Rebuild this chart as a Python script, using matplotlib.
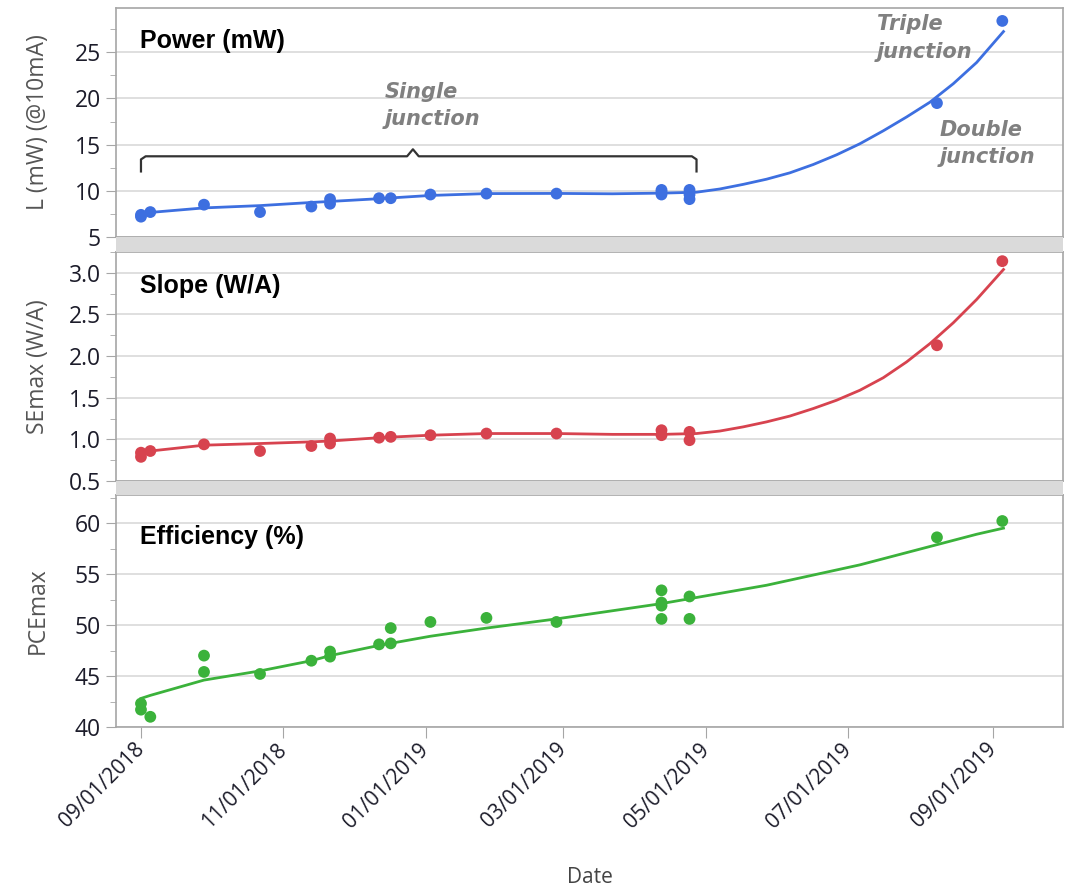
import numpy as np
import pandas as pd
import matplotlib
matplotlib.use('Agg')
import matplotlib.pyplot as plt
import matplotlib.dates as mdates
from matplotlib.patches import Rectangle

# data (days after 2018-09-01)
start = pd.Timestamp('2018-09-01')

power_days = [0, 0, 4, 27, 51, 73, 81, 81, 102, 107, 124, 148, 178, 223, 223, 223, 235, 235, 235, 341, 369]
power_vals = [7.2, 7.4, 7.7, 8.5, 7.7, 8.3, 8.6, 9.1, 9.2, 9.2, 9.6, 9.7, 9.7, 9.6, 9.9, 10.1, 9.1, 9.6, 10.1, 19.5, 28.4]

slope_days = [0, 0, 4, 27, 51, 73, 81, 81, 102, 107, 124, 148, 178, 223, 223, 235, 235, 341, 369]
slope_vals = [0.79, 0.84, 0.86, 0.94, 0.86, 0.92, 0.95, 1.01, 1.02, 1.03, 1.05, 1.07, 1.07, 1.05, 1.11, 0.99, 1.09, 2.13, 3.14]

eff_days = [0, 0, 4, 27, 27, 51, 73, 81, 81, 102, 107, 107, 124, 148, 178, 223, 223, 223, 223, 235, 235, 341, 369]
eff_vals = [42.3, 41.7, 41.0, 47.0, 45.4, 45.2, 46.5, 47.4, 46.9, 48.1, 49.7, 48.2, 50.3, 50.7, 50.3, 53.4, 52.2, 51.9, 50.6, 52.8, 50.6, 58.6, 60.2]

# smoothed fit lines
fit_days = [0, 4, 27, 51, 73, 81, 102, 124, 148, 178, 202, 223, 238, 248, 258, 268, 278, 288,
            298, 308, 318, 328, 338, 348, 358, 369.5]
power_fit = [7.5, 7.66, 8.15, 8.4, 8.74, 8.85, 9.15, 9.5, 9.7, 9.72, 9.68, 9.75, 9.85, 10.2, 10.7, 11.26,
             11.95, 12.85, 13.9, 15.1, 16.5, 18.0, 19.6, 21.6, 23.9, 27.25]
slope_fit = [0.83, 0.86, 0.93, 0.95, 0.97, 0.98, 1.02, 1.05, 1.07, 1.07, 1.06, 1.06, 1.07, 1.10, 1.15, 1.21,
             1.28, 1.37, 1.47, 1.59, 1.74, 1.93, 2.15, 2.40, 2.68, 3.04]
eff_fit = [42.8, 43.1, 44.6, 45.5, 46.5, 47.0, 48.0, 48.9, 49.7, 50.6, 51.4, 52.1, 52.7, 53.1, 53.5, 53.9,
           54.4, 54.9, 55.4, 55.9, 56.5, 57.1, 57.7, 58.3, 58.9, 59.5]

def to_dates(days):
    return start + pd.to_timedelta(days, unit='D')

blue = '#3d6fe0'
red = '#d7434f'
green = '#3bb23b'
spine_col = '#a6a6a6'
grid_col = '#d9d9d9'
band_col = '#dadada'
tick_col = '#1c1c2a'

fig = plt.figure(figsize=(10.68, 8.91), dpi=100)
W, H = 1068, 891
left, right = 116, 1063
panels = [(8, 237), (252, 481), (495, 727)]
axes = []
for top, bot in panels:
    ax = fig.add_axes([left / W, 1 - bot / H, (right - left) / W, (bot - top) / H])
    axes.append(ax)

# grey separator bands
for top, bot in [(237, 252), (481, 495)]:
    fig.patches.append(Rectangle((left / W, 1 - bot / H), (right - left) / W, (bot - top) / H,
                                 transform=fig.transFigure, facecolor=band_col, edgecolor='none', zorder=5))

series = [
    (power_days, power_vals, power_fit, blue, 'L (mW) (@10mA)', (5, 29.8), 5, 'Power (mW)', 0.91),
    (slope_days, slope_vals, slope_fit, red, 'SEmax (W/A)', (0.5, 3.25), 0.5, 'Slope (W/A)', 0.905),
    (eff_days, eff_vals, eff_fit, green, 'PCEmax', (40, 62.75), 5, 'Efficiency (%)', 0.87),
]

xlim = (start - pd.Timedelta(days=10.7), start + pd.Timedelta(days=395))

for ax, (d, v, fit, col, ylab, ylim, step, title, ty) in zip(axes, series):
    ax.plot(to_dates(fit_days), fit, color=col, lw=2.0, zorder=3, solid_joinstyle='round')
    ax.scatter(to_dates(d), v, s=72, color=col, edgecolors='none', zorder=4)
    ax.set_xlim(xlim)
    ax.set_ylim(ylim)
    ax.yaxis.set_major_locator(plt.MultipleLocator(step))
    ax.yaxis.set_minor_locator(plt.MultipleLocator(step / 2))
    ax.grid(axis='y', which='major', color=grid_col, lw=1.2)
    ax.set_axisbelow(True)
    for s in ax.spines.values():
        s.set_color(spine_col)
        s.set_linewidth(1.2)
    ax.tick_params(axis='y', which='major', direction='out', length=7, color=spine_col,
                   labelsize=16.5, labelcolor=tick_col, pad=4)
    ax.tick_params(axis='y', which='minor', direction='out', length=4, color=spine_col)
    for lab in ax.get_yticklabels():
        lab.set_family('Open Sans')
    ax.set_ylabel(ylab, fontsize=16.5, color='#555555', family='Open Sans')
    ax.yaxis.set_label_coords(-0.07, 0.5)
    ax.text(0.025, ty, title, transform=ax.transAxes, fontsize=18, fontweight='bold',
            family='Liberation Sans', va='top', ha='left', color='black')

for ax in axes[:2]:
    ax.tick_params(axis='x', which='both', bottom=False, labelbottom=False)

ax3 = axes[2]
ax3.xaxis.set_major_locator(mdates.MonthLocator(bymonth=[1, 3, 5, 7, 9, 11]))
ax3.xaxis.set_major_formatter(mdates.DateFormatter('%m/%d/%Y'))
ax3.tick_params(axis='x', direction='out', length=8, color=spine_col, labelsize=15,
                labelcolor=tick_col, pad=6)
for lab in ax3.get_xticklabels():
    lab.set_rotation(45)
    lab.set_ha('right')
    lab.set_va('center')
    lab.set_rotation_mode('anchor')
    lab.set_family('Open Sans')
ax3.set_xlabel('Date', fontsize=15, color='#444444', family='Open Sans', va='center')
ax3.xaxis.set_label_coords(0.5, -0.65)

# bracket over the single junction devices
ax1 = axes[0]
bx = [0, 0, 2, 114, 116.5, 119, 236, 238, 238]
by = [12.1, 13.4, 13.74, 13.74, 14.5, 13.74, 13.74, 13.4, 12.1]
ax1.plot(to_dates(bx), by, color='#333333', lw=1.6, zorder=3)

ann = dict(fontsize=15, fontweight='bold', style='oblique', color='#808080',
           family='DejaVu Sans', ha='left', va='top', linespacing=1.45)
ax1.text(to_dates([104.5])[0], 21.8, 'Single\njunction', **ann)
ax1.text(to_dates([315.3])[0], 29.1, 'Triple\njunction', **ann)
ax1.text(to_dates([342])[0], 17.7, 'Double\njunction', **ann)

fig.savefig('out.png', dpi=100)
